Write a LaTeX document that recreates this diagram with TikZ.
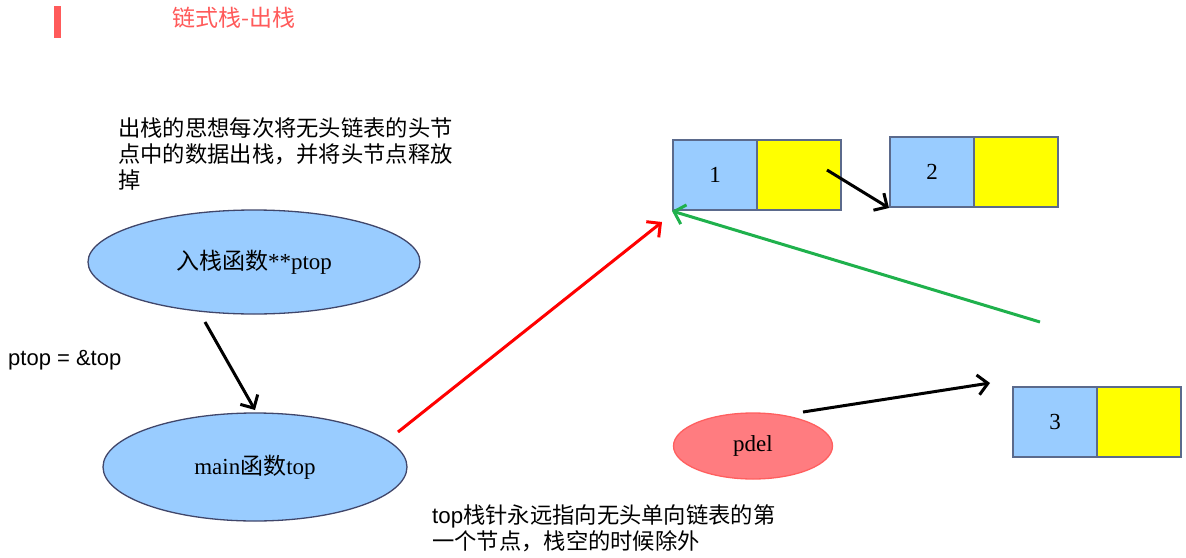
\documentclass[tikz,border=0pt]{standalone}
\usepackage{fontspec}
\setmainfont{Liberation Serif}
\newfontfamily\cjk{Noto Sans CJK SC}
\newfontfamily\arial{Liberation Sans}
\usetikzlibrary{shapes.geometric,arrows.meta}
\definecolor{lblue}{HTML}{99CCFF}
\definecolor{ylw}{HTML}{FFFF00}
\definecolor{bord}{HTML}{5B6A8C}
\definecolor{ebord}{HTML}{40466A}
\definecolor{ttl}{HTML}{FF5A5A}
\definecolor{pfill}{HTML}{FF7C80}
\definecolor{pbord}{HTML}{FF5F5F}
\definecolor{grn}{HTML}{1FB14C}
\tikzset{
  ell/.style={ellipse, draw=ebord, line width=1.3pt, fill=lblue, inner sep=0pt, font=\fontsize{23}{26}\selectfont},
  cella/.style={rectangle, draw=bord, line width=2pt, fill=lblue, minimum width=84pt, minimum height=70pt, inner sep=0pt, font=\fontsize{23}{26}\selectfont},
  cellb/.style={rectangle, draw=bord, line width=2pt, fill=ylw, minimum width=84pt, minimum height=70pt, inner sep=0pt},
  arr/.style={line width=3pt, -{Straight Barb[length=10pt,width=20pt,line width=3pt]}},
  txt/.style={anchor=north west, inner sep=0pt, align=left, font=\cjk\fontsize{22.3}{26}\selectfont}
}
\begin{document}
\begin{tikzpicture}[x=1pt,y=-1pt]
\useasboundingbox (0,0) rectangle (1186,557);
% title
\fill[ttl] (54,6) rectangle (61,38);
\node[anchor=west, inner sep=0pt, text=ttl, font=\cjk\fontsize{23}{26}\selectfont] (title) at (172,18) {链式栈-出栈};
% description
\node[txt] (desc) at (118,117) {出栈的思想每次将无头链表的头节\\点中的数据出栈，并将头节点释放\\掉};
% ellipses
\node[ell, minimum width=332pt, minimum height=104pt] (push) at (254,262) {{\cjk 入栈函数}**ptop};
\node[ell, minimum width=304pt, minimum height=108pt] (main) at (255,467) {main{\cjk 函数}top};
\node[anchor=west, inner sep=0pt, font=\arial\fontsize{22}{26}\selectfont] (assign) at (8,360) {ptop = \&top};
% pdel
\node[ellipse, draw=pbord, line width=1.3pt, fill=pfill, minimum width=159pt, minimum height=66pt, inner sep=0pt, font=\fontsize{23}{26}\selectfont] (pdel) at (753,446) {pdel};
% boxes
\node[cella] (n1) at (715,175) {1};
\node[cellb] (n1p) at (799,175) {};
\node[cella] (n2) at (932,172) {2};
\node[cellb] (n2p) at (1016,172) {};
\node[cella] (n3) at (1055,422) {3};
\node[cellb] (n3p) at (1139,422) {};
% bottom text
\node[txt] (note) at (432,504) {{\arial top}栈针永远指向无头单向链表的第\\一个节点，栈空的时候除外};
% arrow endpoints
\coordinate (a1s) at (205,322);
\coordinate (a1e) at (255,410);
\coordinate (rs) at (398,432);
\coordinate (re) at (662,222);
\coordinate (bs) at (827,170);
\coordinate (gs) at (1040,322);
\coordinate (ps) at (803,412);
\coordinate (pe) at (990,383);
% arrows
\draw[arr] (a1s) -- (a1e);
\draw[arr, red] (rs) -- (re);
\draw[arr] (bs) -- (n2.south west);
\draw[arr, grn] (gs) -- (n1.south west);
\draw[arr] (ps) -- (pe);
\end{tikzpicture}
\end{document}
